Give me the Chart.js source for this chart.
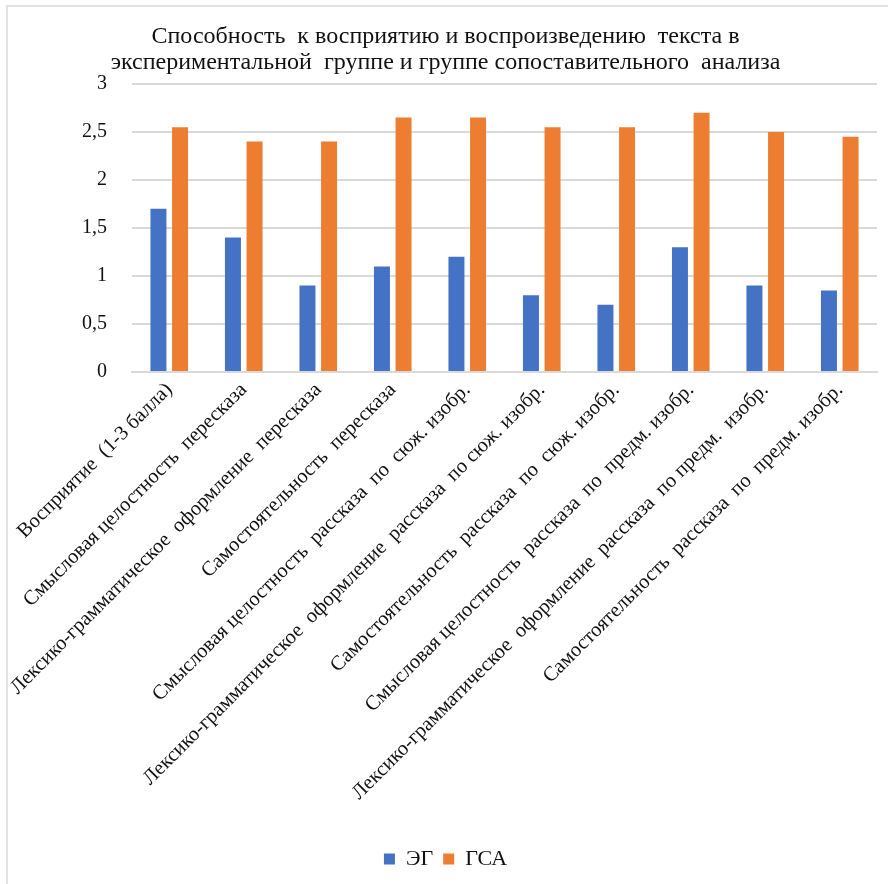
<!DOCTYPE html>
<html lang="ru">
<head>
<meta charset="utf-8">
<title>Способность к восприятию и воспроизведению текста</title>
<script src="https://cdn.jsdelivr.net/npm/chart.js@4/dist/chart.umd.min.js"></script>
<style>
  html, body { margin: 0; padding: 0; background: #fff; overflow: hidden; }
  .frame {
    position: absolute; left: 6px; top: 5px; width: 900px; height: 900px;
    border-left: 2px solid #e3e3e3; border-top: 2px solid #e3e3e3;
  }
  .wrap { position: absolute; left: 0; top: 0; width: 888px; height: 884px; }
</style>
</head>
<body>
<div class="frame"></div>
<div class="wrap"><canvas id="skills-chart"></canvas></div>
<script>
// Критерии оценки (подписи оси X)
const categories = [
  'Восприятие  (1-3 балла)',
  'Смысловая целостность  пересказа',
  'Лексико-грамматическое  оформление  пересказа',
  'Самостоятельность  пересказа',
  'Смысловая целостность  рассказа  по  сюж. изобр.',
  'Лексико-грамматическое  оформление  рассказа  по сюж. изобр.',
  'Самостоятельность  рассказа  по  сюж. изобр.',
  'Смысловая целостность  рассказа  по  предм. изобр.',
  'Лексико-грамматическое  оформление  рассказа  по предм.  изобр.',
  'Самостоятельность  рассказа  по  предм. изобр.'
];

// Средние баллы по группам
const egValues = [1.7, 1.4, 0.9, 1.1, 1.2, 0.8, 0.7, 1.3, 0.9, 0.85];
const gsaValues = [2.55, 2.4, 2.4, 2.65, 2.65, 2.55, 2.55, 2.7, 2.5, 2.45];

const seriesNames = ['ЭГ', 'ГСА'];
const titleLines = [
  'Способность  к восприятию и воспроизведению  текста в',
  'экспериментальной  группе и группе сопоставительного  анализа'
];

const FONT = '"Liberation Serif", "Times New Roman", serif';
const TEXT = '#111';
const GRID = '#d9d9d9';

function formatTick(value) {
  return String(value).replace('.', ',');
}

const canvas = document.getElementById('skills-chart');
canvas.width = 888;
canvas.height = 884;

new Chart(canvas, {
  type: 'bar',
  data: {
    labels: categories,
    datasets: [
      {
        label: seriesNames[0],
        data: egValues,
        backgroundColor: '#4472C4',
        categoryPercentage: 0.58,
        barPercentage: 0.74
      },
      {
        label: seriesNames[1],
        data: gsaValues,
        backgroundColor: '#ED7D31',
        categoryPercentage: 0.58,
        barPercentage: 0.74
      }
    ]
  },
  options: {
    responsive: false,
    animation: false,
    devicePixelRatio: 1,
    // left padding + y-axis width keep the plot starting at x = 132
    layout: { padding: { left: 14, right: 11, top: 0, bottom: 4 } },
    plugins: {
      title: {
        display: true,
        text: titleLines,
        color: TEXT,
        font: { family: FONT, size: 24, weight: 'normal', lineHeight: 1.083 },
        padding: { top: 24, bottom: 8 }
      },
      legend: {
        position: 'bottom',
        labels: {
          color: TEXT,
          font: { family: FONT, size: 22 },
          boxWidth: 11,
          boxHeight: 11,
          padding: 10
        }
      },
      tooltip: { enabled: false }
    },
    scales: {
      x: {
        grid: { display: false, drawTicks: false },
        border: { color: GRID, width: 2 },
        ticks: {
          color: TEXT,
          font: { family: FONT, size: 20.5 },
          minRotation: 45,
          maxRotation: 45,
          autoSkip: false,
          padding: 6
        },
        afterFit: (scale) => { scale.height = 466; }
      },
      y: {
        min: 0,
        max: 3,
        grid: { color: GRID, lineWidth: 2, drawTicks: false },
        border: { display: false },
        ticks: {
          stepSize: 0.5,
          color: TEXT,
          font: { family: FONT, size: 20 },
          padding: 25,
          callback: (value) => formatTick(value)
        },
        afterFit: (scale) => { scale.width = 118; }
      }
    }
  }
});
</script>
</body>
</html>
